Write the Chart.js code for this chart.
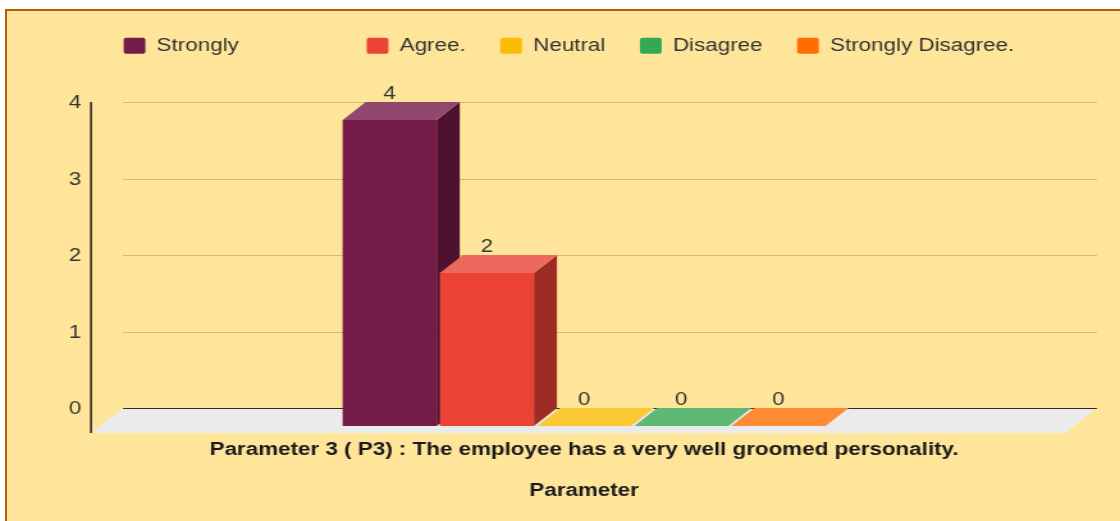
<!DOCTYPE html>
<html lang="en">
<head>
<meta charset="UTF-8">
<title>Parameter 3</title>
<script src="https://cdn.jsdelivr.net/npm/chart.js"></script>
<style>
  html, body { margin: 0; padding: 0; background: #fff; overflow: hidden; }
  body { width: 1120px; height: 521px; position: relative; }
  .panel {
    position: absolute; left: 5px; top: 9px; width: 1200px; height: 600px;
    background: #ffe599;
    border-left: 2px solid #b45f06;
    border-top: 2px solid #b45f06;
  }
  /* the reference is stretched sideways, so the canvas is too */
  #chart { position: absolute; left: 0; top: 0; transform-origin: 0 0; transform: scaleX(1.28); }
</style>
</head>
<body>
<div class="panel"></div>
<canvas id="chart" width="875" height="521"></canvas>

<script>
// data
const categories = ['Parameter 3 ( P3) : The employee has a very well groomed personality.'];
const seriesNames = ['Strongly', 'Agree.', 'Neutral', 'Disagree', 'Strongly Disagree.'];
const stronglyAgree = [4];
const agree = [2];
const neutral = [0];
const disagree = [0];
const stronglyDisagree = [0];
const yTicks = [0, 1, 2, 3, 4];

const seriesColors = ['#741b47', '#ea4335', '#fbbc04', '#34a853', '#ff6d01'];

const DEPTH = 18;   // depth of the bars
const FLOOR = 25;   // depth of the floor
const FONT = "'Liberation Sans', Arial, sans-serif";

// lighten (f > 0) or darken (f < 0) a hex colour
function shade(hex, f) {
    const n = parseInt(hex.slice(1), 16);
    const c = [n >> 16, (n >> 8) & 255, n & 255].map(v => Math.round(f >= 0 ? v + (255 - v) * f : v * (1 + f)));
    return 'rgb(' + c.join(',') + ')';
}

const values = [stronglyAgree, agree, neutral, disagree, stronglyDisagree];
const datasets = seriesNames.map((name, i) => ({
    label: name,
    data: values[i],
    backgroundColor: seriesColors[i],
    topColor: shade(seriesColors[i], 0.2),
    sideColor: shade(seriesColors[i], -0.33),
    borderWidth: 0,
    categoryPercentage: 0.5,
    barPercentage: 0.968
}));

// floor, back grid lines, axis line, and the side/top faces of each bar
const threeD = {
    id: 'threeD',
    beforeInit(chart) {
        // leave room between the legend and the plot
        const legend = chart.legend;
        const fit = legend.fit;
        legend.fit = function () { fit.call(this); this.height = 110; };
    },
    beforeDatasetsDraw(chart) {
        const { ctx, chartArea: a, scales: { y } } = chart;
        const front = a.bottom + 7, back = front - FLOOR;
        const fl = a.left - 5.5, fr = a.right - 4;
        ctx.save();
        ctx.fillStyle = '#ebebeb';
        ctx.beginPath();
        ctx.moveTo(fl, front); ctx.lineTo(fr, front);
        ctx.lineTo(fr + FLOOR, back); ctx.lineTo(fl + FLOOR, back);
        ctx.closePath(); ctx.fill();

        yTicks.forEach(v => {
            const gy = Math.round(y.getPixelForValue(v) - DEPTH) + 0.5;
            ctx.strokeStyle = v === 0 ? '#2b2b2b' : '#d3bb80';
            ctx.lineWidth = 1;
            ctx.beginPath(); ctx.moveTo(fl + FLOOR, gy); ctx.lineTo(fr + FLOOR, gy); ctx.stroke();
        });

        ctx.strokeStyle = '#1e1e1e';
        ctx.lineWidth = 1.5;
        ctx.beginPath();
        ctx.moveTo(fl, y.getPixelForValue(yTicks[yTicks.length - 1]) - DEPTH);
        ctx.lineTo(fl, front);
        ctx.stroke();

        chart.data.datasets.forEach((ds, i) => {
            chart.getDatasetMeta(i).data.forEach(bar => {
                const { x, y: top, base, width } = bar.getProps(['x', 'y', 'base', 'width'], true);
                const x0 = x - width / 2, x1 = x + width / 2;
                ctx.fillStyle = ds.sideColor;
                ctx.beginPath();
                ctx.moveTo(x1, top); ctx.lineTo(x1 + DEPTH, top - DEPTH);
                ctx.lineTo(x1 + DEPTH, base - DEPTH); ctx.lineTo(x1, base);
                ctx.closePath(); ctx.fill();
                ctx.fillStyle = ds.topColor;
                ctx.beginPath();
                ctx.moveTo(x0, top); ctx.lineTo(x1, top);
                ctx.lineTo(x1 + DEPTH, top - DEPTH); ctx.lineTo(x0 + DEPTH, top - DEPTH);
                ctx.closePath(); ctx.fill();
            });
        });
        ctx.restore();
    },
    afterDatasetsDraw(chart) {
        const ctx = chart.ctx;
        ctx.save();
        ctx.font = '17.5px ' + FONT;
        ctx.fillStyle = '#333';
        ctx.textAlign = 'center';
        ctx.textBaseline = 'middle';
        chart.data.datasets.forEach((ds, i) => {
            chart.getDatasetMeta(i).data.forEach((bar, j) => {
                ctx.fillText(ds.data[j], bar.x, bar.y - DEPTH - 8);
            });
        });
        ctx.restore();
    }
};

new Chart(document.getElementById('chart'), {
    type: 'bar',
    data: { labels: categories, datasets: datasets },
    plugins: [threeD],
    options: {
        responsive: false,
        devicePixelRatio: 1,
        animation: false,
        layout: { padding: { top: 10, left: 53, right: 39, bottom: 19.5 } },
        plugins: {
            tooltip: { enabled: false },
            legend: {
                position: 'top',
                labels: {
                    font: { family: FONT, size: 17.5 },
                    color: '#333',
                    boxWidth: 17,
                    boxHeight: 16,
                    padding: 27,
                    useBorderRadius: true,
                    borderRadius: 2,
                    generateLabels(chart) {
                        const items = Chart.defaults.plugins.legend.labels.generateLabels(chart);
                        // the first entry is followed by a wide gap in the original
                        items[0].text += ' '.repeat(15);
                        items.forEach(it => { it.lineWidth = 0; });
                        return items;
                    }
                }
            }
        },
        scales: {
            x: {
                grid: { display: false, drawTicks: false },
                border: { display: false },
                ticks: {
                    font: { family: FONT, size: 17.5, weight: 'bold' },
                    color: '#1a1a1a',
                    padding: 14,
                    maxRotation: 0,
                    autoSkip: false
                },
                title: {
                    display: true,
                    text: 'Parameter',
                    font: { family: FONT, size: 17.5, weight: 'bold' },
                    color: '#1a1a1a',
                    padding: { top: 5.5, bottom: 0 }
                }
            },
            y: {
                min: 0,
                max: 4,
                grid: { display: false, drawTicks: false },
                border: { display: false },
                afterFit(scale) { scale.width = 23.6; },
                afterBuildTicks(scale) { scale.ticks = yTicks.map(v => ({ value: v })); },
                ticks: {
                    font: { family: FONT, size: 17.5 },
                    color: '#333',
                    padding: 13,
                    labelOffset: -DEPTH + 1.5
                }
            }
        }
    }
});
</script>
</body>
</html>
